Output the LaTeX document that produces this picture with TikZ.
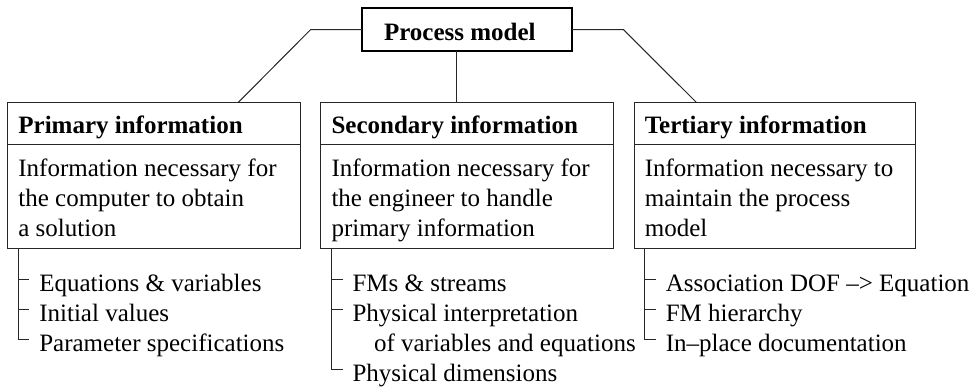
\documentclass[tikz,border=0pt]{standalone}
\usepackage{fontspec}
\setmainfont{Liberation Serif}
\begin{document}
\begin{tikzpicture}[x=1pt,y=-1pt,line width=1pt,
  every node/.style={inner sep=0pt,outer sep=0pt},
  txt/.style={font=\fontsize{25}{30}\selectfont,anchor=base west,align=left},
  hd/.style={font=\fontsize{25}{30}\selectfont\bfseries,anchor=base west,align=left},
  panel/.style={draw=black!85,line width=1pt,anchor=north west,minimum width=#1},
  link/.style={draw=black!85,line width=1pt},
]
\useasboundingbox (0,0) rectangle (975,389);

% top node
\node[draw,line width=1.8pt,anchor=north west,minimum width=210,minimum height=43] (pm) at (362,8) {};
\node[hd] (pmt) at (384,40) {Process model};

% three panels: header strip + body
\node[panel=292.3,minimum height=41.3] (h1) at (7.7,102.7) {};
\node[panel=292.3,minimum height=104.3] (b1) at (7.7,144) {};
\node[panel=292.6,minimum height=41.3] (h2) at (320.7,102.7) {};
\node[panel=292.6,minimum height=104.3] (b2) at (320.7,144) {};
\node[panel=281,minimum height=41.3] (h3) at (634,102.7) {};
\node[panel=281,minimum height=104.3] (b3) at (634,144) {};

\node[hd] (h1t) at (18.4,133.3) {Primary information};
\node[hd] (h2t) at (331.5,133.3) {Secondary information};
\node[hd] (h3t) at (644.8,133.3) {Tertiary information};

% multi-line texts are anchored at the baseline of their last line
\node[txt] (b1t) at (18.4,236.7) {Information necessary for\\the computer to obtain\\a solution};
\node[txt] (b2t) at (331.5,236.7) {Information necessary for\\the engineer to handle\\primary information};
\node[txt] (b3t) at (644.8,236.7) {Information necessary to\\maintain the process\\model};

% connectors from the top node
\coordinate (kl) at (310.7,29.5);
\coordinate (kr) at (623.3,29.5);
\draw[link] (pm.west) -- (kl) -- ([xshift=230.3pt]h1.north west);
\draw[link] (pm.east) -- (kr) -- ([xshift=62.7pt]h3.north west);
\draw[link] ([xshift=-11pt]pm.south) -- ([xshift=-11pt]pm.south |- h2.north);

% item lists
\node[txt] (i11) at (39.3,291.7) {Equations \& variables};
\node[txt] (i12) at (39.3,321.7) {Initial values};
\node[txt] (i13) at (39.3,351.7) {Parameter specifications};

\node[txt] (i21) at (352.5,291.7) {FMs \& streams};
\node[txt] (i22) at (352.5,321.7) {Physical interpretation};
\node[txt] (i22b) at (374,351.7) {of variables and equations};
\node[txt] (i23) at (352.5,381.7) {Physical dimensions};

\node[txt] (i31) at (665.8,291.7) {Association DOF –> Equation};
\node[txt] (i32) at (665.8,321.7) {FM hierarchy};
\node[txt] (i33) at (665.8,351.7) {In–place documentation};

% tree lines
\coordinate (r1) at ([xshift=10.7pt]b1.south west);
\coordinate (r2) at ([xshift=11pt]b2.south west);
\coordinate (r3) at ([xshift=10pt]b3.south west);
\foreach \k in {1,2,3}{
  \foreach \j in {1,2,3}{
    \coordinate (e\k\j) at ([xshift=-10pt,yshift=12.4pt]i\k\j.base west);
  }
}
\draw[link] (r1) |- (e13);
\draw[link] (r1 |- e11) -- (e11);
\draw[link] (r1 |- e12) -- (e12);
\draw[link] (r2) |- (e23);
\draw[link] (r2 |- e21) -- (e21);
\draw[link] (r2 |- e22) -- (e22);
\draw[link] (r3) |- (e33);
\draw[link] (r3 |- e31) -- (e31);
\draw[link] (r3 |- e32) -- (e32);
\end{tikzpicture}
\end{document}
